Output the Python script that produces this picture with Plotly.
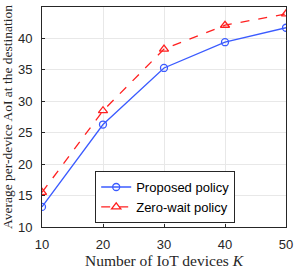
import plotly.graph_objects as go

K = [10, 20, 30, 40, 50]
proposed = [13.2, 26.3, 35.3, 39.4, 41.7]
zero_wait = [15.5, 28.5, 38.3, 42.1, 43.9]
x_ticks = [10, 20, 30, 40, 50]
y_ticks = [10, 15, 20, 25, 30, 35, 40, 45]

fig = go.Figure()
fig.add_trace(go.Scatter(
    x=K, y=proposed, mode="lines+markers", name="Proposed policy",
    line=dict(color="#3b5bff", width=1.3),
    marker=dict(symbol="circle-open", size=7, color="#3b5bff", line=dict(width=1.3)),
))
fig.add_trace(go.Scatter(
    x=K, y=zero_wait, mode="lines+markers", name="Zero-wait policy",
    line=dict(color="#ff2020", width=1.3, dash="dash"),
    marker=dict(symbol="triangle-up-open", size=8, color="#ff2020", line=dict(width=1.3)),
))

axis_common = dict(
    showgrid=True, gridcolor="#e8e8e8", gridwidth=1,
    showline=True, linecolor="#262626", linewidth=1, mirror=True,
    ticks="inside", ticklen=3, tickcolor="#262626",
    tickfont=dict(family="Liberation Sans, Arial", size=13, color="#262626"),
    zeroline=False,
)
x_title_font = dict(family="Liberation Serif, Times New Roman", size=15.5, color="#262626")
y_title_font = dict(family="Liberation Serif, Times New Roman", size=13.5, color="#262626")
fig.update_xaxes(range=[10, 50], tickvals=x_ticks, ticklabelstandoff=5, **axis_common,
                 title=dict(text="Number of IoT devices <i>K</i>", font=x_title_font, standoff=1))
fig.update_yaxes(range=[10, 45], tickvals=y_ticks, ticklabelstandoff=6, **axis_common,
                 title=dict(text="Average per-device AoI at the destination", font=y_title_font, standoff=2))
fig.update_layout(
    width=299, height=269,
    margin=dict(l=37, r=10, t=6, b=35),
    paper_bgcolor="white", plot_bgcolor="white",
    legend=dict(x=0.218, y=0.018, xanchor="left", yanchor="bottom",
                bgcolor="white", bordercolor="#262626", borderwidth=1,
                font=dict(family="Liberation Sans, Arial", size=13, color="#000000"),
                tracegroupgap=0, itemwidth=30),
    showlegend=True,
)
fig.write_html("out.html", config={"displayModeBar": False},
               post_script="document.body.style.margin='0';")
